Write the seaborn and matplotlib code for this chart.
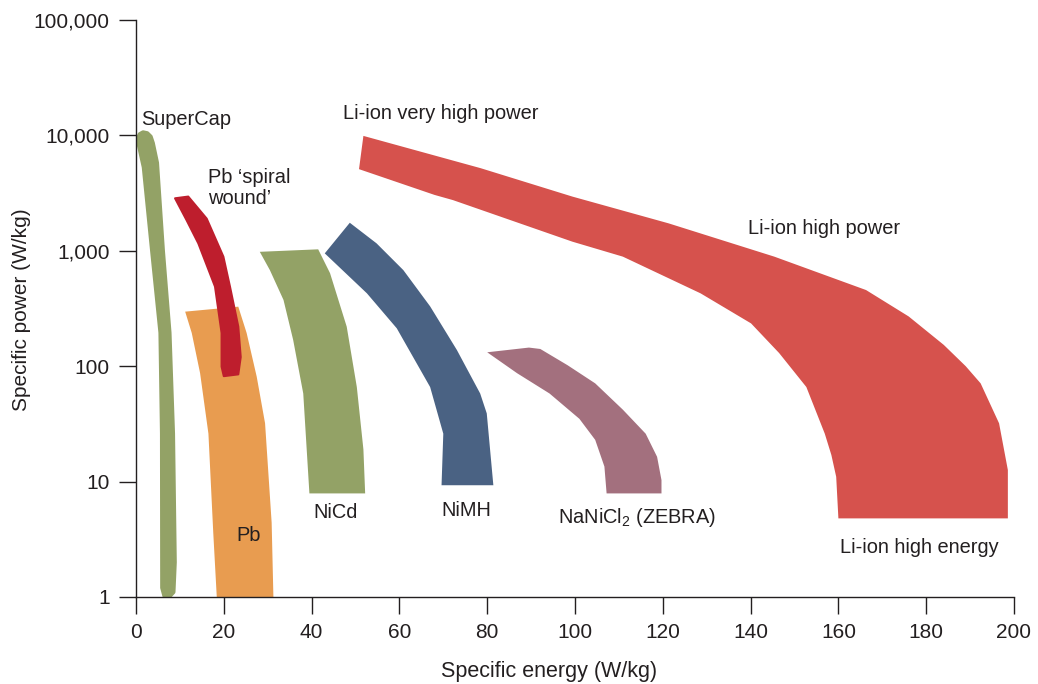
import matplotlib
matplotlib.use("Agg")
import matplotlib.pyplot as plt
import matplotlib.ticker as mticker
import seaborn as sns

# Ragone chart: outline of each storage technology in (specific energy, specific power)
supercap_energy = [0.4, 0.8, 1.6, 2.6, 3.4, 3.9, 4.85, 6.2, 7.7, 8.5, 8.9, 8.6, 7.6, 6.4, 5.9, 5.85, 5.5, 3.6, 1.7, 0.5]
supercap_power = [9500, 10300, 10700, 10500, 9800, 8600, 5800, 1000, 195, 26, 2.0, 1.1, 1.0, 1.02, 1.2, 26, 195, 1000, 5300, 8500]

pb_energy = [11.2, 23.3, 25.2, 27.5, 29.4, 30.9, 31.3, 18.4, 17.6, 16.5, 14.6, 12.7]
pb_power = [297, 328, 194, 81, 32, 4.4, 1.0, 1.0, 3.6, 26, 87, 194]

pb_spiral_energy = [8.9, 11.9, 16.1, 19.9, 21.4, 23.3, 23.85, 23.3, 20.0, 19.5, 19.5, 18.0, 14.2, 11.5]
pb_spiral_power = [2850, 2950, 1900, 890, 490, 220, 120, 85, 82, 99, 194, 490, 1160, 1850]

nicd_energy = [28.2, 41.5, 44.2, 48.0, 50.3, 51.8, 52.2, 39.5, 38.1, 35.8, 33.6, 30.5]
nicd_power = [980, 1030, 640, 220, 66, 19, 7.9, 7.9, 58, 169, 375, 680]

nimh_energy = [43.0, 48.7, 54.8, 60.9, 67.0, 73.1, 78.4, 79.9, 81.4, 69.6, 70.0, 67.0, 59.4, 52.6]
nimh_power = [950, 1750, 1160, 680, 330, 138, 58, 39, 9.3, 9.3, 26, 66, 213, 428]

zebra_energy = [80.0, 89.5, 92.1, 98.3, 104.6, 110.9, 116.1, 118.7, 119.7, 119.7, 107.2, 106.7, 104.6, 101.0, 94.2, 86.8]
zebra_power = [132, 145, 141, 102, 71, 42, 26, 16.4, 10.3, 7.9, 7.9, 13.5, 23, 35, 58, 87]

liion_energy = [51.8, 78.5, 99.4, 121.3, 145.4, 166.3, 176.0, 184.0, 189.0, 192.4, 196.6, 198.6, 198.6,
                160.0, 159.5, 158.4, 156.9, 152.7, 146.5, 140.1, 128.6, 110.9, 99.4, 72.2, 68.0, 50.8]
liion_power = [9900, 5200, 2950, 1730, 890, 457, 270, 153, 100, 71, 32, 12.6, 4.8,
               4.8, 11, 17, 26, 66, 130, 235, 428, 890, 1200, 2750, 3050, 5100]

# Region labels: text, anchor energy, anchor power
label_texts = ["SuperCap", "Pb \u2018spiral\nwound\u2019", "Li-ion very high power", "Li-ion high power",
               "NiCd", "NiMH", "NaNiCl$_2$ (ZEBRA)", "Pb", "Li-ion high energy"]
label_energy = [1.1, 16.4, 47.2, 139.4, 40.3, 69.5, 96.1, 22.8, 160.4]
label_power = [13800, 3500, 15600, 1545, 5.45, 5.67, 4.84, 3.38, 2.66]

x_ticks = [0, 20, 40, 60, 80, 100, 120, 140, 160, 180, 200]
y_ticks = [1, 10, 100, 1000, 10000, 100000]
y_tick_labels = ["1", "10", "100", "1,000", "10,000", "100,000"]

sns.set_theme(style="ticks")
ink = "#231F20"
plt.rcParams["font.family"] = ["Liberation Sans", "DejaVu Sans"]
plt.rcParams["mathtext.fontset"] = "custom"
plt.rcParams["mathtext.rm"] = "Liberation Sans"
plt.rcParams["mathtext.default"] = "regular"

fig = plt.figure(figsize=(10.38, 6.84), dpi=100)
ax = fig.add_axes([136 / 1038, 1 - 597 / 684, 878 / 1038, 577 / 684])
ax.set_yscale("log")
ax.set_xlim(0, 200)
ax.set_ylim(1, 100000)

shapes = [
    (pb_energy, pb_power, "#E89C50", 0),
    (supercap_energy, supercap_power, "#93A266", 2.5),
    (pb_spiral_energy, pb_spiral_power, "#BE1E2D", 1.5),
    (nicd_energy, nicd_power, "#93A266", 0),
    (nimh_energy, nimh_power, "#4A6283", 0),
    (zebra_energy, zebra_power, "#A3707E", 0),
    (liion_energy, liion_power, "#D6524D", 0),
]
for e, p, color, lw in shapes:
    ax.fill(e, p, color=color, linewidth=lw, edgecolor=color, joinstyle="round", zorder=2)

for t, e, p in zip(label_texts, label_energy, label_power):
    ax.text(e, p, t, ha="left", va="center", fontsize=14.4, color=ink, linespacing=1.1, zorder=3)

ax.set_xticks(x_ticks)
ax.set_xticklabels([str(v) for v in x_ticks])
ax.set_yticks(y_ticks)
ax.set_yticklabels(y_tick_labels)
ax.yaxis.set_minor_locator(mticker.NullLocator())
ax.tick_params(axis="both", which="major", direction="out", length=12, width=1.0,
               color=ink, labelcolor=ink, labelsize=15, pad=7)

sns.despine(ax=ax)
for side in ("left", "bottom"):
    ax.spines[side].set_color(ink)
    ax.spines[side].set_linewidth(1.0)
    ax.spines[side].set_zorder(4)

ax.set_xlabel("Specific energy (W/kg)", fontsize=15.5, color=ink)
ax.set_ylabel("Specific power (W/kg)", fontsize=15, color=ink)
ax.xaxis.set_label_coords((549 - 136) / 878, -(671 - 597) / 577)
ax.yaxis.set_label_coords(-(136 - 22) / 878, (597 - 310) / 577)
ax.xaxis.label.set_va("center")
ax.yaxis.label.set_va("center")

fig.savefig("out.png", dpi=100)
